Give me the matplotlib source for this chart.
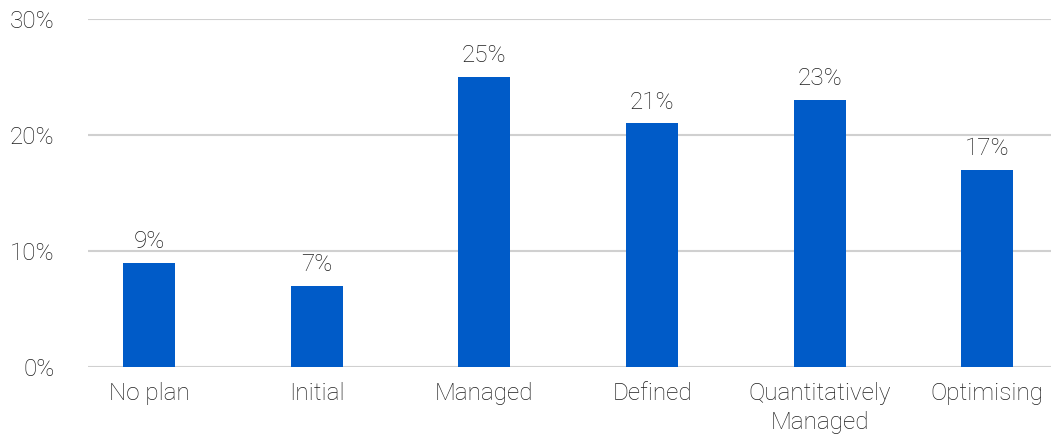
import matplotlib.pyplot as plt
import numpy as np

# Share of respondents by maturity level
categories = ["No plan", "Initial", "Managed", "Defined", "Quantitatively\nManaged", "Optimising"]
values = [9, 7, 25, 21, 23, 17]
yticks = [0, 10, 20, 30]

plt.rcParams['font.family'] = ['Roboto', 'DejaVu Sans']
plt.rcParams['font.weight'] = 'light'
text_color = "#1e1e1e"
bar_color = "#005BC8"
fs = 17.5

fig = plt.figure(figsize=(10.51, 4.36), dpi=100)
ax = fig.add_axes([88 / 1051, 69 / 436, 1 - 88 / 1051, 348 / 436])

x = np.arange(len(categories))
bars = ax.bar(x, values, width=0.31, color=bar_color, zorder=3)

# value labels above each bar
for xi, v in zip(x, values):
    ax.annotate(f"{v}%", (xi, v), xytext=(0, 7), textcoords="offset points",
                ha="center", va="bottom", fontsize=fs, color=text_color)

ax.set_xlim(-0.364, 5.38)
ax.set_ylim(0, 30)
ax.set_yticks(yticks)
ax.set_yticklabels([f"{t}%" for t in yticks])
ax.set_xticks(x)
ax.set_xticklabels(categories, linespacing=1.3)

ax.grid(axis="y", color="#d0d0d0", linewidth=1.5, zorder=0)
ax.tick_params(axis="both", length=0, labelsize=fs, labelcolor=text_color)
ax.tick_params(axis="x", pad=11)
ax.tick_params(axis="y", pad=24)
for side in ["top", "right", "left", "bottom"]:
    ax.spines[side].set_visible(False)

plt.savefig("out.png", dpi=100)
